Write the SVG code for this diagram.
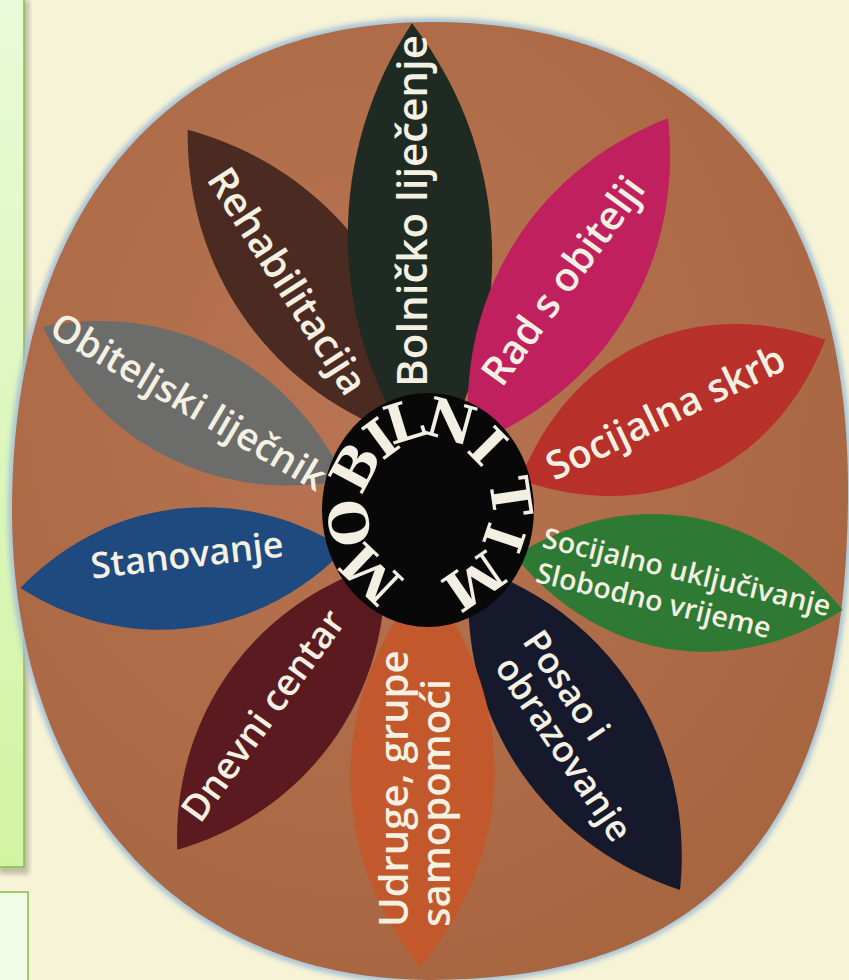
<svg xmlns="http://www.w3.org/2000/svg" width="849" height="980" viewBox="0 0 849 980">
<defs>
<style>
.lbl{font-family:"Open Sans","Noto Sans","DejaVu Sans",sans-serif;font-weight:600;fill:#f4f0e2}
.mid{text-anchor:middle}
.ctr{font-family:"DejaVu Serif","Liberation Serif",serif;font-weight:bold;font-size:54px;fill:#f3efe2;text-anchor:middle}
</style>
<linearGradient id="gpanel" x1="0" y1="0" x2="0" y2="1">
<stop offset="0" stop-color="#e9fad8"/>
<stop offset="1" stop-color="#d1f4a2"/>
</linearGradient>
<radialGradient id="gbrown" cx="0.42" cy="0.38" r="0.7">
<stop offset="0" stop-color="#b97553"/>
<stop offset="1" stop-color="#a6643f"/>
</radialGradient>
<filter id="blur2" x="-10%" y="-10%" width="120%" height="120%"><feGaussianBlur stdDeviation="2.5"/></filter>
</defs>
<rect width="849" height="980" fill="#f6f3d6"/>
<g id="panels">
<rect x="-3" y="-3" width="30" height="874" fill="#000" opacity="0.22" filter="url(#blur2)" transform="translate(2,3)"/>
<rect x="-3" y="-3" width="27" height="870" fill="url(#gpanel)" stroke="#8fbd52" stroke-width="1.6"/>
<rect x="-3" y="892" width="31" height="100" fill="#f1fce7" stroke="#8fbd52" stroke-width="1.6"/>
</g>
<g id="oval">
<path d="M432,22 C698,22 848,190 848,490 C848,823 714,980 430,980 C179,980 12,792 12,510 C12,207 172,22 432,22 Z" fill="none" stroke="#a8c2d6" stroke-width="8" filter="url(#blur2)"/>
<path d="M432,22 C698,22 848,190 848,490 C848,823 714,980 430,980 C179,980 12,792 12,510 C12,207 172,22 432,22 Z" fill="url(#gbrown)"/>
</g>
<g id="connectors"/>
<g id="petal-rehabilitacija">
<path transform="translate(423,442) rotate(-127)" d="M0,0 C117,-91 274,-91 391,0 C274,91 117,91 0,0Z" fill="#4b2a21"/>
<text class="lbl mid" font-size="40" transform="translate(287.5,281) rotate(57.4)" dy="0.35em">Rehabilitacija</text>
</g>
<g id="petal-bolnicko">
<path transform="translate(428,470) rotate(-92.05)" d="M0,0 C134,-96 313,-96 447,0 C313,96 134,96 0,0Z" fill="#1e2a22"/>
<text class="lbl mid" font-size="42" transform="translate(412,211) rotate(-90)" dy="0.35em">Bolničko liječenje</text>
</g>
<g id="petal-rad-s-obitelji">
<path transform="translate(470,445) rotate(-58.8)" d="M0,0 C115,-89 267,-89 382,0 C267,89 115,89 0,0Z" fill="#c1205f"/>
<text class="lbl mid" font-size="40" transform="translate(563,280.5) rotate(-54)" dy="0.35em">Rad s obitelji</text>
</g>
<g id="petal-socijalna-skrb">
<path transform="translate(520,480) rotate(-24.65)" d="M0,0 C101,-97 235,-97 336,0 C235,97 101,97 0,0Z" fill="#b8302a"/>
<text class="lbl mid" font-size="39" transform="translate(665.5,412.4) rotate(-25.7)" dy="0.35em">Socijalna skrb</text>
</g>
<g id="petal-socijalno-ukljucivanje">
<path transform="translate(515,556) rotate(9.35)" d="M0,0 C100,-89 232,-89 332,0 C232,89 100,89 0,0Z" fill="#2e7934"/>
<text class="lbl" font-size="28.5" transform="translate(541,547) rotate(13.6)"><tspan x="0" y="0">Socijalno uključivanje</tspan><tspan x="2" y="35.4">Slobodno vrijeme</tspan></text>
</g>
<g id="petal-posao">
<path transform="translate(470,565) rotate(57.13)" d="M0,0 C116,-93 271,-93 387,0 C271,93 116,93 0,0Z" fill="#16192c"/>
<text class="lbl" font-size="36" transform="translate(532,634) rotate(56)"><tspan x="0" y="12.6">Posao i</tspan><tspan x="6" y="50.3">obrazovanje</tspan></text>
</g>
<g id="petal-udruge">
<path transform="translate(425,580) rotate(90.74)" d="M0,0 C116,-96 271,-96 387,0 C271,96 116,96 0,0Z" fill="#c2582b"/>
<text class="lbl" font-size="40" transform="translate(408,927) rotate(-90)"><tspan x="0" y="0">Udruge, grupe</tspan><tspan x="0" y="42">samopomoći</tspan></text>
</g>
<g id="petal-dnevni-centar">
<path transform="translate(385,563) rotate(125.93)" d="M0,0 C106,-83 248,-83 354,0 C248,83 106,83 0,0Z" fill="#5a1a1f"/>
<text class="lbl mid" font-size="37" transform="translate(263,715.5) rotate(-54.2)" dy="0.35em">Dnevni centar</text>
</g>
<g id="petal-stanovanje">
<path transform="translate(345,549) rotate(173.16)" d="M0,0 C98,-80 229,-80 327,0 C229,80 98,80 0,0Z" fill="#1f4a80"/>
<text class="lbl mid" font-size="36" transform="translate(187,555) rotate(-6.6)" dy="0.35em">Stanovanje</text>
</g>
<g id="petal-obiteljski">
<path transform="translate(345,480) rotate(-153.1)" d="M0,0 C102,-80 237,-80 339,0 C237,80 102,80 0,0Z" fill="#6c6c6a"/>
<text class="lbl mid" font-size="38" transform="translate(188.5,401.5) rotate(30.4)" dy="0.35em">Obiteljski liječnik</text>
</g>
<g id="center-mobilni-tim">
<ellipse cx="428" cy="510" rx="106" ry="117" fill="#080808"/>
<text class="ctr" transform="translate(371,574) rotate(-136.4)" dy="0.36em">M</text>
<text class="ctr" transform="translate(349,523) rotate(-98.8)" dy="0.36em">O</text>
<text class="ctr" transform="translate(355,467) rotate(-61.8)" dy="0.36em">B</text>
<text class="ctr" transform="translate(381,438) rotate(-36.3)" dy="0.36em">I</text>
<text class="ctr" transform="translate(404,421) rotate(-17.1)" dy="0.36em">L</text>
<text class="ctr" transform="translate(451,421) rotate(15.2)" dy="0.36em">N</text>
<text class="ctr" transform="translate(488,446) rotate(45.2)" dy="0.36em">I</text>
<text class="ctr" transform="translate(511,497) rotate(81.6)" dy="0.36em">T</text>
<text class="ctr" transform="translate(504,538) rotate(108.5)" dy="0.36em">I</text>
<text class="ctr" transform="translate(474,581) rotate(145.4)" dy="0.36em">M</text>
</g>
</svg>
